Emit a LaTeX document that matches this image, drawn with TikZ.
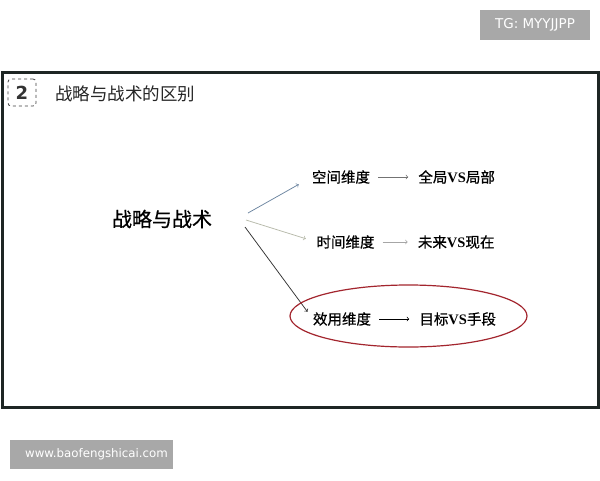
\documentclass[tikz,border=0pt]{standalone}
\usepackage{fontspec}
\setmainfont{Liberation Serif}
\newfontfamily\cjk{Noto Sans CJK SC}
\newfontfamily\cjkb[FakeBold=0.6]{Noto Sans CJK SC}
\newfontfamily\tagfont{DejaVu Sans}
\usetikzlibrary{arrows,positioning,calc}

\definecolor{tagfill}{HTML}{A8A8A8}
\definecolor{framec}{HTML}{1E2624}
\definecolor{ellred}{HTML}{A3252E}
\definecolor{arr1}{HTML}{6C85A0}
\definecolor{arr2}{HTML}{B7BAAA}
\definecolor{arr3}{HTML}{333333}
\newcommand\vs{\textrm{\bfseries VS}}

\begin{document}
\begin{tikzpicture}[x=1pt,y=-1pt,every node/.append style={inner sep=0pt},
  dimtext/.style={font=\cjkb\fontsize{14.5}{15}\selectfont},
  tagbox/.style={fill=tagfill,text=white,font=\tagfont\fontsize{13.5}{14}\selectfont}]
\useasboundingbox (0,0) rectangle (600,480);
\fill[white] (0,0) rectangle (600,480);
% tags
\fill[tagfill] (480,10) rectangle (590,40);
\node[tagbox] (tgtag) at (535,25) {TG: MYYJJPP};
\fill[tagfill] (10,440) rectangle (173,469);
\node[tagbox,font=\tagfont\fontsize{11.8}{12}\selectfont] (webtag) at (96.5,454.5) {www.baofengshicai.com};
% frame
\draw[line width=3pt,framec] (2,72) rectangle (598,407);
\node[draw=black!75,dashed,line width=0.8pt,rounded corners=3pt,minimum width=28pt,minimum height=27pt,
  font=\fontspec{DejaVu Sans Bold}\fontsize{18}{18}\selectfont,text=black!80] (num) at (22,92.5) {2};
\node[anchor=west,font=\cjk\fontsize{17.5}{18}\selectfont,text=black!85] (title) at (55,94) {战略与战术的区别};
% diagram
\node[font=\cjkb\fontsize{20}{20}\selectfont] (main) at (162,219) {战略与战术};
\node[dimtext] (dim1) at (341,177) {空间维度};
\node[dimtext] (dim2) at (345.5,242) {时间维度};
\node[dimtext] (dim3) at (342,319) {效用维度};
\node[dimtext,right=48pt of dim1] (res1) {全局\vs{}局部};
\node[dimtext,right=43pt of dim2] (res2) {未来\vs{}现在};
\node[dimtext,right=48pt of dim3] (res3) {目标\vs{}手段};
\coordinate (o1) at (248,213);
\coordinate (o2) at (246,220);
\coordinate (o3) at (245,227);
\foreach \i/\s in {1/15,2/11,3/9}
  \draw[->,arr\i,line width=0.75pt,shorten >=\s pt] (o\i) -- (dim\i.west);
\foreach \i/\c in {1/black!55,2/black!35,3/black}
  \draw[->,\c,line width=0.75pt,shorten >=10pt,shorten <=8pt] (dim\i.east) -- (res\i.west);
\draw[ellred,line width=1.2pt] (408.5,316) ellipse [x radius=118.5,y radius=31];
\end{tikzpicture}
\end{document}
